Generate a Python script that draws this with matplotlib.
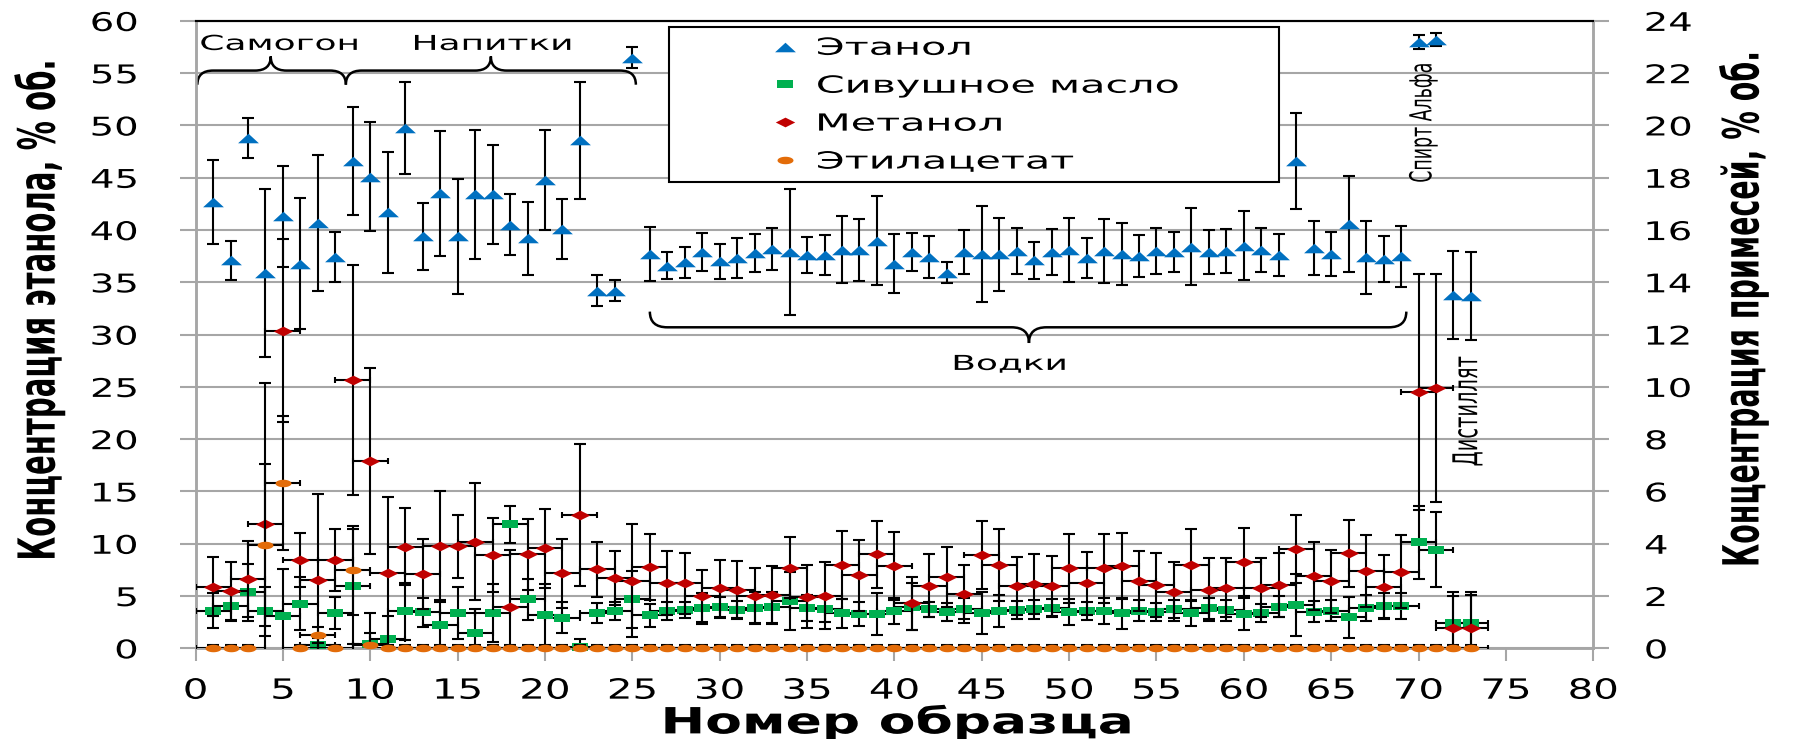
import numpy as np
import matplotlib
matplotlib.use('Agg')
import matplotlib.pyplot as plt
from matplotlib import patheffects
from matplotlib.path import Path
from matplotlib.patches import PathPatch
from matplotlib.lines import Line2D
from matplotlib.transforms import Affine2D

# sample numbers 1..73
samples = np.arange(1, 74)

# ethanol, % vol (left axis)
ethanol = [42.7, 37.1, 48.8, 35.9, 41.3, 36.8, 40.7, 37.4, 46.6, 45.1,
           41.7, 49.8, 39.4, 43.5, 39.4, 43.4, 43.4, 40.5, 39.2, 44.8,
           40.1, 48.6, 34.2, 34.2, 56.5, 37.7, 36.6, 36.9, 37.9, 37.0,
           37.3, 37.8, 38.2, 37.9, 37.6, 37.6, 38.1, 38.1, 39.0, 36.8,
           37.9, 37.4, 35.9, 37.9, 37.7, 37.7, 38.0, 37.1, 37.9, 38.1,
           37.3, 38.0, 37.7, 37.5, 38.0, 37.9, 38.4, 37.9, 38.0, 38.5,
           38.1, 37.6, 46.6, 38.3, 37.7, 40.6, 37.4, 37.2, 37.5, 58.0,
           58.2, 33.8, 33.7]
ethanol_err = [4.0, 1.9, 1.9, 8.0, 4.8, 6.3, 6.5, 2.4, 5.2, 5.2,
               5.8, 4.4, 3.2, 6.0, 5.5, 6.2, 4.7, 2.9, 3.5, 4.8,
               2.9, 5.6, 1.5, 1.0, 1.0, 2.6, 1.3, 1.5, 1.8, 1.7,
               1.9, 1.8, 2.0, 6.0, 1.7, 1.9, 3.2, 3.0, 4.3, 2.8,
               1.8, 2.0, 1.0, 2.1, 4.6, 3.5, 2.2, 1.8, 2.2, 3.1,
               1.9, 3.1, 3.0, 2.0, 2.2, 1.9, 3.7, 2.1, 2.1, 3.3,
               2.1, 2.0, 4.6, 2.6, 2.1, 4.6, 3.5, 2.2, 2.9, 0.7,
               0.6, 4.2, 4.2]

# impurities, % vol (right axis)
fusel = [1.44, 1.62, 2.14, 1.41, 1.25, 1.71, 0.11, 1.35, 2.38, 0.15,
         0.34, 1.41, 1.38, 0.89, 1.34, 0.59, 1.36, 4.74, 1.87, 1.27,
         1.17, 0.04, 1.36, 1.44, 1.87, 1.27, 1.43, 1.46, 1.53, 1.57,
         1.46, 1.55, 1.57, 1.82, 1.53, 1.49, 1.34, 1.32, 1.32, 1.44,
         1.59, 1.49, 1.38, 1.52, 1.36, 1.43, 1.46, 1.49, 1.53, 1.38,
         1.44, 1.43, 1.34, 1.44, 1.39, 1.50, 1.34, 1.53, 1.45, 1.31,
         1.36, 1.59, 1.66, 1.40, 1.43, 1.18, 1.53, 1.63, 1.62, 4.05,
         3.78, 0.96, 0.98]
fusel_err = [0.68, 0.56, 1.08, 0.92, 1.80, 1.00, 0.30, 0.60, 2.20, 0.45,
             0.90, 1.10, 0.55, 0.90, 1.00, 0.90, 1.10, 0.70, 0.80, 1.20,
             0.60, 0.30, 0.38, 0.35, 1.10, 0.44, 0.35, 0.30, 0.60, 0.40,
             0.35, 0.60, 0.60, 1.10, 0.50, 0.50, 0.55, 0.45, 0.80, 0.50,
             0.90, 0.30, 0.35, 0.40, 0.80, 0.60, 0.35, 0.35, 0.35, 0.50,
             0.35, 0.50, 0.60, 0.40, 0.35, 0.35, 0.50, 0.40, 0.40, 0.60,
             0.35, 0.40, 1.20, 0.40, 0.40, 0.80, 0.50, 0.50, 0.50, 1.40,
             1.45, 1.05, 1.05]

methanol = [2.36, 2.19, 2.65, 4.76, 12.14, 3.38, 2.62, 3.38, 10.26, 7.17,
            2.87, 3.89, 2.84, 3.92, 3.90, 4.08, 3.57, 1.58, 3.59, 3.82,
            2.87, 5.10, 3.03, 2.70, 2.59, 3.10, 2.51, 2.48, 2.00, 2.29,
            2.25, 2.00, 2.04, 3.08, 1.97, 2.01, 3.18, 2.79, 3.59, 3.15,
            1.72, 2.39, 2.74, 2.08, 3.57, 3.18, 2.38, 2.46, 2.38, 3.06,
            2.48, 3.06, 3.16, 2.57, 2.42, 2.17, 3.18, 2.25, 2.32, 3.31,
            2.32, 2.42, 3.80, 2.76, 2.57, 3.63, 2.96, 2.36, 2.93, 9.80,
            9.95, 0.76, 0.76]
methanol_err = [1.12, 1.12, 1.45, 5.40, 3.50, 1.05, 3.28, 1.18, 4.40, 3.55,
                2.90, 1.46, 1.33, 2.09, 1.20, 2.25, 1.43, 2.20, 1.34, 1.50,
                1.31, 2.70, 1.05, 1.03, 2.16, 1.27, 1.22, 1.17, 1.00, 1.10,
                1.10, 1.06, 1.12, 1.16, 1.21, 1.28, 1.30, 1.35, 1.29, 1.31,
                1.02, 1.20, 1.15, 1.10, 1.31, 1.38, 1.12, 1.15, 1.15, 1.33,
                1.19, 1.31, 1.27, 1.16, 1.24, 1.12, 1.37, 1.19, 1.14, 1.31,
                1.14, 1.21, 1.30, 1.31, 1.21, 1.27, 1.37, 1.21, 1.40, 4.50,
                4.35, 1.38, 1.38]

ethyl_acetate = [0.00, 0.00, 0.00, 3.94, 6.33, 0.00, 0.50, 0.00, 2.98, 0.14,
                 0.00, 0.00, 0.00, 0.00, 0.00, 0.00, 0.00, 0.00, 0.00, 0.00,
                 0.00, 0.00, 0.00, 0.00, 0.00, 0.00, 0.00, 0.00, 0.00, 0.00,
                 0.00, 0.00, 0.00, 0.00, 0.00, 0.00, 0.00, 0.00, 0.00, 0.00,
                 0.00, 0.00, 0.00, 0.00, 0.00, 0.00, 0.00, 0.00, 0.00, 0.00,
                 0.00, 0.00, 0.00, 0.00, 0.00, 0.00, 0.00, 0.00, 0.00, 0.00,
                 0.00, 0.00, 0.00, 0.00, 0.00, 0.00, 0.00, 0.00, 0.00, 0.00,
                 0.00, 0.00, 0.00]
ethyl_acetate_err = [0.12, 0.12, 0.12, 3.10, 2.55, 0.12, 0.30, 0.12, 1.70, 1.20,
                     0.12, 0.12, 0.12, 0.12, 0.12, 0.12, 0.12, 0.12, 0.12, 0.12,
                     0.12, 0.12, 0.12, 0.12, 0.12, 0.12, 0.12, 0.12, 0.12, 0.12,
                     0.12, 0.12, 0.12, 0.12, 0.12, 0.12, 0.12, 0.12, 0.12, 0.12,
                     0.12, 0.12, 0.12, 0.12, 0.12, 0.12, 0.12, 0.12, 0.12, 0.12,
                     0.12, 0.12, 0.12, 0.12, 0.12, 0.12, 0.12, 0.12, 0.12, 0.12,
                     0.12, 0.12, 0.12, 0.12, 0.12, 0.12, 0.12, 0.12, 0.12, 0.12,
                     0.12, 0.12, 0.12]
sample_err = 1.0  # horizontal error bars of the impurity series

names = ['Этанол', 'Сивушное масло', 'Метанол', 'Этилацетат']
colors = ['#0070C0', '#00B050', '#C00000', '#E36C09']

# wide, flat markers
TRI = [(-1, -0.46), (1, -0.46), (0, 0.46)]
RECT = [(-1, -0.46), (1, -0.46), (1, 0.46), (-1, 0.46)]
DIAM = [(-1, 0), (0, 0.5), (1, 0), (0, -0.5)]
t = np.linspace(0, 2 * np.pi, 40)
OVAL = list(zip(np.cos(t), 0.47 * np.sin(t)))
markers = [(TRI, 15), (RECT, 11.5), (DIAM, 14), (OVAL, 11.5)]

SX = 1.75
GRAY = '#A6A6A6'


class Stretch(patheffects.AbstractPathEffect):
    """Draws a text path widened horizontally about one of its edges."""

    def __init__(self, sx, anchor='center'):
        super().__init__()
        self.sx = sx
        self.anchor = anchor

    def draw_path(self, renderer, gc, tpath, affine, rgbFace=None):
        verts = tpath.vertices
        if tpath.codes is not None:
            verts = verts[tpath.codes != Path.CLOSEPOLY]
        if len(verts) == 0:
            return
        xs = affine.transform(verts)[:, 0]
        if self.anchor == 'left':
            x0 = xs.min()
        elif self.anchor == 'right':
            x0 = xs.max()
        else:
            x0 = (xs.min() + xs.max()) / 2
        wide = affine + Affine2D().translate(-x0, 0).scale(self.sx, 1).translate(x0, 0)
        renderer.draw_path(gc, tpath, wide, rgbFace)


def widen(texts, anchor='center', sx=SX):
    for txt in texts:
        txt.set_path_effects([Stretch(sx, anchor)])


def brace(ax, x1, x2, xm, y, h, r):
    # curly brace from x1 to x2 with its point at xm, h < 0 points down
    mid = y + h / 2
    verts = [(x1, y), (x1, mid), (x1 + r, mid), (xm - r, mid),
             (xm, mid), (xm, y + h), (xm, mid), (xm + r, mid),
             (x2 - r, mid), (x2, mid), (x2, y)]
    codes = [Path.MOVETO, Path.CURVE3, Path.CURVE3, Path.LINETO,
             Path.CURVE3, Path.CURVE3, Path.CURVE3, Path.CURVE3,
             Path.LINETO, Path.CURVE3, Path.CURVE3]
    ax.add_patch(PathPatch(Path(verts, codes), fill=False, lw=1.8,
                           edgecolor='black', zorder=5))


fig = plt.figure(figsize=(17.93, 7.39), dpi=100)
ax = fig.add_axes([0.1091, 0.1227, 0.7795, 0.849])
ax2 = ax.twinx()

ebar = dict(fmt='none', ecolor='black', elinewidth=1.5, capthick=1.5)

# ethanol on the left scale
ax.errorbar(samples, ethanol, yerr=ethanol_err, capsize=4.3, zorder=3, **ebar)
m, ms = markers[0]
ax.plot(samples, ethanol, ls='none', marker=m, ms=ms, mfc=colors[0], mew=0,
        zorder=4, clip_on=False)

# impurities on the right scale
series = [(fusel, fusel_err), (methanol, methanol_err), (ethyl_acetate, ethyl_acetate_err)]
for i, (vals, errs) in enumerate(series, start=1):
    z = 3 + 2 * i
    ax2.errorbar(samples, vals, yerr=errs, capsize=4.3, zorder=z, **ebar)
    ax2.errorbar(samples, vals, xerr=sample_err, capsize=2.5, zorder=z, **ebar)
    m, ms = markers[i]
    ax2.plot(samples, vals, ls='none', marker=m, ms=ms, mfc=colors[i], mew=0,
             zorder=z + 1, clip_on=False)

ax.set_xlim(0, 80)
ax.set_ylim(0, 60)
ax2.set_ylim(0, 24)
ax.set_xticks(np.arange(0, 81, 5))
ax.set_yticks(np.arange(0, 61, 5))
ax2.set_yticks(np.arange(0, 25, 2))

ax.yaxis.grid(True, color=GRAY, lw=1.5)
ax.set_axisbelow(True)
for a in (ax, ax2):
    for side in ('left', 'right', 'bottom'):
        a.spines[side].set_color(GRAY)
        a.spines[side].set_linewidth(1.8)
    a.spines['top'].set_color('black')
    a.spines['top'].set_linewidth(1.5)

ax.tick_params(axis='y', direction='out', length=11.5, width=1.5, color=GRAY,
               labelsize=18.5, pad=30)
ax2.tick_params(axis='y', direction='out', length=11.5, width=1.5, color=GRAY,
                labelsize=18.5, pad=25.5)
ax.tick_params(axis='x', direction='out', length=9.4, width=1.5, color=GRAY,
               labelsize=20, pad=11)

ax.set_xlabel('Номер образца', fontsize=26, fontweight='bold')
ax.xaxis.set_label_coords(0.502, -0.1186)
ax.xaxis.label.set_va('center')
ax.set_ylabel('Концентрация этанола, % об.', fontsize=21, fontweight='bold')
ax.yaxis.set_label_coords(-0.1114, 0.539)
ax.yaxis.label.set_va('center')
ax2.set_ylabel('Концентрация примесей, % об.', fontsize=20.5, fontweight='bold')
ax2.yaxis.set_label_coords(1.1078, 0.541)
ax2.yaxis.label.set_va('center')

# group braces and captions
brace(ax, 0.1, 8.6, 4.3, 53.9, 2.7, 0.9)
brace(ax, 8.6, 25.2, 16.9, 53.9, 2.7, 0.9)
brace(ax, 26.0, 69.3, 47.7, 32.2, -3.0, 1.0)
notes = [
    ax.text(4.8, 57.8, 'Самогон', fontsize=14.8, ha='center', va='center'),
    ax.text(17.0, 57.8, 'Напитки', fontsize=14.8, ha='center', va='center'),
    ax.text(46.6, 27.2, 'Водки', fontsize=14.8, ha='center', va='center'),
    ax.text(70.25, 50.3, 'Спирт Альфа', fontsize=12.5, rotation=90, ha='center', va='center'),
    ax.text(72.8, 22.7, 'Дистиллят', fontsize=14, rotation=90, ha='center', va='center'),
]

handles = [Line2D([], [], ls='none', marker=m, ms=ms, mfc=c, mew=0)
           for (m, ms), c in zip(markers, colors)]
leg = ax2.legend(handles, names, loc='upper left',
                 bbox_to_anchor=(0.3731, 0.7631, 0.3402, 0.2),
                 bbox_transform=fig.transFigure, mode='expand', borderaxespad=0,
                 borderpad=0.36, labelspacing=0.59, handlelength=9.1,
                 handletextpad=-3.2, fontsize=17, fancybox=False,
                 framealpha=1, edgecolor='black')
leg.get_frame().set_linewidth(1.5)
leg.set_zorder(20)

widen(ax.get_xticklabels(), sx=1.45)
widen(ax.get_yticklabels(), 'right', sx=1.5)
widen(ax2.get_yticklabels(), 'left', sx=1.5)
widen([ax.xaxis.label], sx=1.48)
widen([ax.yaxis.label, ax2.yaxis.label])
widen(leg.get_texts(), 'left')
widen(notes)

fig.savefig('out.png', dpi=100)
